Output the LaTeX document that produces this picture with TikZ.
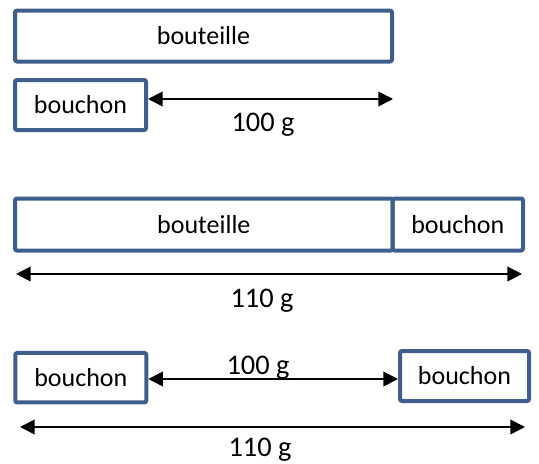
\documentclass[tikz,border=0pt]{standalone}
\usepackage{fontspec}
\setmainfont{Carlito}
\usetikzlibrary{arrows.meta}
\definecolor{boxblue}{RGB}{62,95,139}

\tikzset{every picture/.style={line width=0.75pt}}
\tikzset{
  barbox/.style={draw=boxblue, line width=3pt, rounded corners=1.5pt, inner sep=0pt,
    minimum height=50pt*0.75, font=\fontsize{19.5pt}{23pt}\selectfont},
  massarrow/.style={{Triangle[length=11pt,width=11pt]}-{Triangle[length=11pt,width=11pt]}, line width=1.3pt},
  masslabel/.style={anchor=base, inner sep=0pt, font=\fontsize{21.3pt}{25pt}\selectfont}
}

\begin{document}
\begin{tikzpicture}[x=0.75pt,y=0.75pt,yscale=-1,xscale=1]
\useasboundingbox (0,0) rectangle (539,464);

% Shape: Rectangle
\node[barbox, minimum width=377*0.75pt, minimum height=51*0.75pt] (bouteilleA) at (203.5,36) {bouteille};
% Shape: Rectangle
\node[barbox, minimum width=131*0.75pt] (bouchonA) at (80.5,105) {bouchon};
% Shape: Rectangle
\node[barbox, minimum width=377.7*0.75pt, minimum height=52*0.75pt] (bouteilleB) at (203.85,224.5) {bouteille};
% Shape: Rectangle
\node[barbox, minimum width=130.3*0.75pt, minimum height=52*0.75pt] (bouchonB) at (457.85,224.5) {bouchon};
% Shape: Rectangle
\node[barbox, minimum width=131*0.75pt, minimum height=49.5*0.75pt] (bouchonC) at (80.8,377.7) {bouchon};
% Shape: Rectangle
\node[barbox, minimum width=129*0.75pt] (bouchonD) at (464.5,376) {bouchon};

\coordinate (endA) at (393,99);
\coordinate (startB) at (16,274);
\coordinate (endB) at (522,274);
\coordinate (lineC) at (0,379);
\coordinate (startD) at (20,427);
\coordinate (endD) at (525,427);

%Straight Lines
\draw[massarrow] (bouchonA.east |- endA) -- (endA);
%Straight Lines
\draw[massarrow] (startB) -- (endB);
%Straight Lines
\draw[massarrow] (bouchonC.east |- lineC) -- (bouchonD.west |- lineC);
%Straight Lines
\draw[massarrow] (startD) -- (endD);

% Text Node
\node[masslabel] (labelA) at (263,131.5) {100 g};
% Text Node
\node[masslabel] (labelB) at (262,307.7) {110 g};
% Text Node
\node[masslabel] (labelC) at (258,374.3) {100 g};
% Text Node
\node[masslabel] (labelD) at (260,456.5) {110 g};

\end{tikzpicture}
\end{document}
